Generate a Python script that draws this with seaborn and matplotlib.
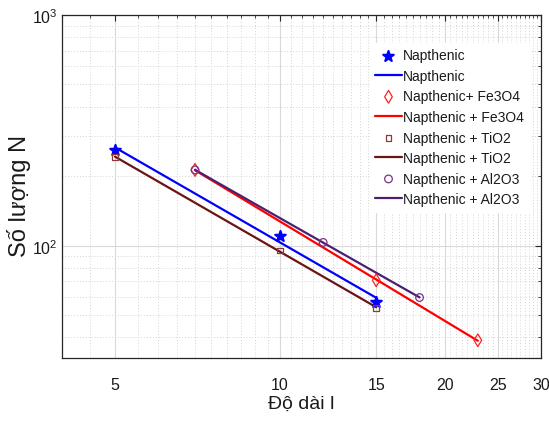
import matplotlib
matplotlib.use("Agg")
import matplotlib.pyplot as plt
from matplotlib.ticker import FixedLocator, LogLocator, NullFormatter, LogFormatterMathtext
import numpy as np
import seaborn as sns

# values (length l vs count N)
napthenic_x = [5, 10, 15]
napthenic_y = [260, 110.5, 57]
fe3o4_x = [7, 15, 23]
fe3o4_y = [213, 70.8, 38.9]
tio2_x = [5, 10, 15]
tio2_y = [242, 95.4, 53.7]
al2o3_x = [7, 12, 18]
al2o3_y = [213, 103.3, 59.6]

x_ticks = [5, 10, 15, 20, 25, 30]
x_tick_labels = ["5", "10", "15", "20", "25", "30"]

series = [
    ("Napthenic", "Napthenic", napthenic_x, napthenic_y, "*", 8, True, "#0000FF", "#0000FF"),
    ("Napthenic+ Fe3O4", "Napthenic + Fe3O4", fe3o4_x, fe3o4_y, "d", 6.5, False, "#FF2020", "#FF0000"),
    ("Napthenic + TiO2", "Napthenic + TiO2", tio2_x, tio2_y, "s", 4, False, "#8B3A3A", "#6B1414"),
    ("Napthenic + Al2O3", "Napthenic + Al2O3", al2o3_x, al2o3_y, "o", 5.5, False, "#7E2F8E", "#4B2070"),
]

sns.set_theme(style="white")
plt.rcParams["font.family"] = ["Liberation Sans", "DejaVu Sans"]
plt.rcParams["mathtext.default"] = "regular"

fig = plt.figure(figsize=(5.49, 4.27), dpi=100)
ax = fig.add_axes([0.1129, 0.1593, 0.8725, 0.8033])
ax.set_xscale("log")
ax.set_yscale("log")

handles = []
for point_label, line_label, xs, ys, marker, size, filled, mcolor, lcolor in series:
    xs = np.asarray(xs, dtype=float)
    ys = np.asarray(ys, dtype=float)
    slope, intercept = np.polyfit(np.log10(xs), np.log10(ys), 1)
    fit_x = np.array([xs.min(), xs.max()])
    fit_y = 10 ** (intercept + slope * np.log10(fit_x))
    sns.lineplot(x=fit_x, y=fit_y, color=lcolor, linewidth=1.6, ax=ax, zorder=3)
    sc = ax.scatter(
        xs,
        ys,
        marker=marker,
        s=size ** 2,
        facecolors=mcolor if filled else "none",
        edgecolors=mcolor,
        linewidths=1.5 if filled else 0.9,
        zorder=4,
        label=point_label,
    )
    line_handle = plt.Line2D([], [], color=lcolor, linewidth=1.6, label=line_label)
    handles.extend([sc, line_handle])

ax.set_xlim(4, 30)
ax.set_ylim(32.6, 1000)

ax.xaxis.set_major_locator(FixedLocator(x_ticks))
ax.set_xticklabels(x_tick_labels)
ax.xaxis.set_minor_locator(FixedLocator(np.arange(4.5, 30, 0.5)))
ax.xaxis.set_minor_formatter(NullFormatter())
ax.yaxis.set_major_locator(LogLocator(base=10, subs=(1.0,)))
ax.yaxis.set_major_formatter(LogFormatterMathtext())
ax.yaxis.set_minor_locator(LogLocator(base=10, subs=np.arange(2, 10)))
ax.yaxis.set_minor_formatter(NullFormatter())

ax.grid(True, which="major", color="#d9d9d9", linewidth=0.8, linestyle="-")
ax.grid(True, which="minor", color="#d4d4d4", linewidth=0.7, linestyle=(0, (1, 2)))
ax.set_axisbelow(True)

ax.tick_params(which="both", direction="in", top=True, right=True, colors="#262626")
ax.tick_params(which="major", length=4, width=0.8, labelsize=11.5, labelcolor="#1a1a1a")
ax.tick_params(which="minor", length=2, width=0.6)
ax.tick_params(axis="x", which="major", pad=14)
ax.tick_params(axis="y", which="major", pad=3)
for spine in ax.spines.values():
    spine.set_color("#262626")
    spine.set_linewidth(0.9)

ax.set_xlabel("Độ dài l", fontsize=14, color="#1a1a1a", labelpad=2)
ax.set_ylabel("Số lượng N", fontsize=17, color="#1a1a1a")
ax.yaxis.set_label_coords(-0.065, 0.475)

leg = ax.legend(
    handles=handles,
    loc="upper left",
    bbox_to_anchor=(0.628, 0.939),
    fontsize=10,
    frameon=True,
    facecolor="white",
    edgecolor="white",
    framealpha=1,
    handlelength=1.9,
    handletextpad=0.1,
    labelspacing=0.47,
    borderpad=0.4,
    fancybox=False,
)
leg.set_zorder(5)
for text in leg.get_texts():
    text.set_color("#1a1a1a")

fig.savefig("out.png", dpi=100)
